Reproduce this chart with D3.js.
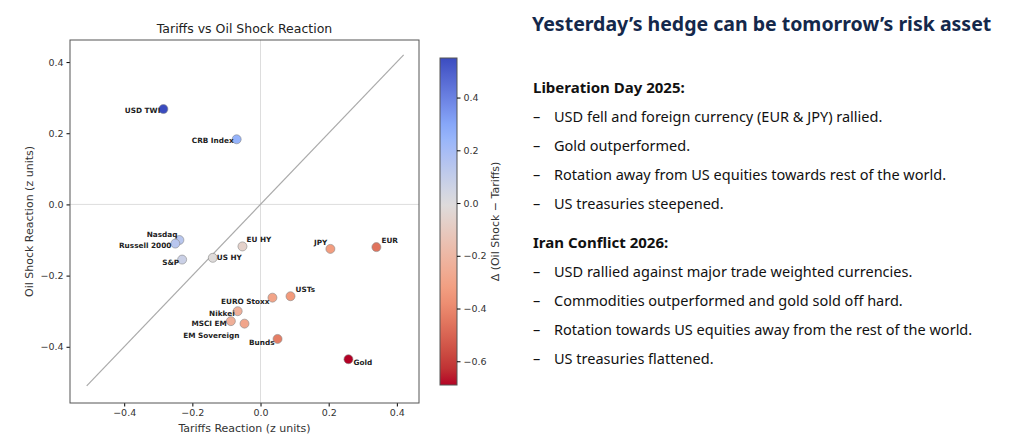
<!DOCTYPE html>
<html><head><meta charset="utf-8">
<script src="https://cdn.jsdelivr.net/npm/d3@7"></script>
<style>body{margin:0;background:#fff}svg{display:block}</style>
</head><body>
<svg id="c" width="1024" height="447"></svg>
<script>
// data
const names = ["USD TWI","CRB Index","Nasdaq","Russell 2000","S&P","US HY","EU HY","JPY","EUR","EURO Stoxx","USTs","Nikkei","MSCI EM","EM Sovereign","Bunds","Gold"]
const tariffs = [-0.285,-0.07,-0.238,-0.25,-0.23,-0.14,-0.053,0.205,0.34,0.035,0.088,-0.067,-0.087,-0.047,0.05,0.258]
const oil = [0.268,0.183,-0.10,-0.11,-0.155,-0.15,-0.118,-0.125,-0.12,-0.262,-0.258,-0.30,-0.328,-0.335,-0.378,-0.435]
const xTicks = [-0.4,-0.2,0.0,0.2,0.4]
const yTicks = [0.4,0.2,0.0,-0.2,-0.4]
const cTicks = [0.4,0.2,0.0,-0.2,-0.4,-0.6]
// label offsets in px [dx, dy, anchor]
const labelOff = [[-3,4,"end"],[-3,4,"end"],[-2,-3,"end"],[-4,4,"end"],[-3,5,"end"],[4,2,"start"],[4,-4,"start"],[-3,-4,"end"],[5,-4,"start"],[-3,6,"end"],[5,-4,"start"],[-3,5,"end"],[-4,5,"end"],[-5,14,"end"],[-3,6,"end"],[5,6,"start"]]

const bullets1 = ["USD fell and foreign currency (EUR & JPY) rallied.","Gold outperformed.","Rotation away from US equities towards rest of the world.","US treasuries steepened."]
const bullets2 = ["USD rallied against major trade weighted currencies.","Commodities outperformed and gold sold off hard.","Rotation towards US equities away from the rest of the world.","US treasuries flattened."]

const svg = d3.select("#c")
const F = "'DejaVu Sans', sans-serif"
const box = {l:70, r:419, t:40, b:403}
const x = d3.scaleLinear().domain([-0.559,0.465]).range([box.l, box.r])
const y = d3.scaleLinear().domain([0.462,-0.558]).range([box.t, box.b])
// reversed coolwarm, centred on zero
const color = d3.scaleLinear().domain([-0.69,-0.345,0,0.275,0.55])
  .range(["#b40426","#f39a7b","#dddddd","#8db0fe","#3b4cc0"]).interpolate(d3.interpolateLab)

svg.append("text").attr("x",(box.l+box.r)/2).attr("y",33).attr("text-anchor","middle")
  .attr("font-family",F).attr("font-size",12.5).attr("fill","#222").text("Tariffs vs Oil Shock Reaction")

// reference lines
svg.append("line").attr("x1",x(0)).attr("x2",x(0)).attr("y1",box.t).attr("y2",box.b).attr("stroke","#ddd")
svg.append("line").attr("x1",box.l).attr("x2",box.r).attr("y1",y(0)).attr("y2",y(0)).attr("stroke","#ddd")
svg.append("line").attr("x1",x(-0.51)).attr("y1",y(-0.51)).attr("x2",x(0.42)).attr("y2",y(0.42)).attr("stroke","#aaa").attr("stroke-width",1.2)

// axes
const gx = svg.append("g").attr("transform",`translate(0,${box.b})`)
  .call(d3.axisBottom(x).tickValues(xTicks).tickFormat(d3.format(".1f")).tickSize(3.5))
const gy = svg.append("g").attr("transform",`translate(${box.l},0)`)
  .call(d3.axisLeft(y).tickValues(yTicks).tickFormat(d3.format(".1f")).tickSize(3.5))
;[gx,gy].forEach(g=>{g.select(".domain").remove();g.selectAll("text").attr("font-family",F).attr("font-size",9.5).attr("fill","#333").text(function(){return this.textContent.replace("-","−")})})
svg.append("rect").attr("x",box.l).attr("y",box.t).attr("width",box.r-box.l).attr("height",box.b-box.t).attr("fill","none").attr("stroke","#555").attr("stroke-width",1)

svg.append("text").attr("x",(box.l+box.r)/2).attr("y",432).attr("text-anchor","middle")
  .attr("font-family",F).attr("font-size",11).attr("fill","#333").text("Tariffs Reaction (z units)")
svg.append("text").attr("transform",`translate(33,${(box.t+box.b)/2}) rotate(-90)`).attr("text-anchor","middle")
  .attr("font-family",F).attr("font-size",11).attr("fill","#333").text("Oil Shock Reaction (z units)")

// points
const pts = names.map((n,i)=>({n, tx:tariffs[i], oy:oil[i], d:oil[i]-tariffs[i], off:labelOff[i]}))
svg.append("g").selectAll("circle").data(pts).join("circle")
  .attr("cx",d=>x(d.tx)).attr("cy",d=>y(d.oy)).attr("r",4.5)
  .attr("fill",d=>color(d.d)).attr("stroke","#888").attr("stroke-width",0.6)
svg.append("g").selectAll("text").data(pts).join("text")
  .attr("x",d=>x(d.tx)+d.off[0]).attr("y",d=>y(d.oy)+d.off[1]).attr("text-anchor",d=>d.off[2])
  .attr("font-family",F).attr("font-weight","bold").attr("font-size",7.3).attr("fill","#222").text(d=>d.n)

// colorbar
const cb = {x:440, w:17, t:58, b:385}
const cy = d3.scaleLinear().domain([0.55,-0.69]).range([cb.t,cb.b])
const grad = svg.append("defs").append("linearGradient").attr("id","cg").attr("x1",0).attr("x2",0).attr("y1",0).attr("y2",1)
d3.range(0,1.0001,0.05).forEach(t=>grad.append("stop").attr("offset",t).attr("stop-color",color(cy.invert(cb.t+t*(cb.b-cb.t)))))
svg.append("rect").attr("x",cb.x).attr("y",cb.t).attr("width",cb.w).attr("height",cb.b-cb.t).attr("fill","url(#cg)").attr("stroke","#555")
const gc = svg.append("g").attr("transform",`translate(${cb.x+cb.w},0)`)
  .call(d3.axisRight(cy).tickValues(cTicks).tickFormat(d3.format(".1f")).tickSize(3.5))
gc.select(".domain").remove()
gc.selectAll("text").attr("font-family",F).attr("font-size",9.5).attr("fill","#333").text(function(){return this.textContent.replace("-","−")})
svg.append("text").attr("transform",`translate(499,${(cb.t+cb.b)/2}) rotate(-90)`).attr("text-anchor","middle")
  .attr("font-family",F).attr("font-size",11).attr("fill","#333").text("Δ (Oil Shock − Tariffs)")

// right text panel
const T = "'Noto Sans', sans-serif"
svg.append("text").attr("x",532).attr("y",31).attr("font-family",T).attr("font-weight","bold").attr("font-size",19.5).attr("fill","#14284b")
  .text("Yesterday’s hedge can be tomorrow’s risk asset")
function section(title, items, y0){
  svg.append("text").attr("x",533).attr("y",y0).attr("font-family",T).attr("font-weight","bold").attr("font-size",15).attr("fill","#111").text(title)
  items.forEach((s,i)=>{
    const yy = y0+29+i*29
    svg.append("text").attr("x",533).attr("y",yy).attr("font-family",T).attr("font-size",14.5).attr("fill","#111").text("–")
    svg.append("text").attr("x",554).attr("y",yy).attr("font-family",T).attr("font-size",14.5).attr("fill","#111").text(s)
  })
}
section("Liberation Day 2025:", bullets1, 93)
section("Iran Conflict 2026:", bullets2, 248)
</script>
</body></html>
